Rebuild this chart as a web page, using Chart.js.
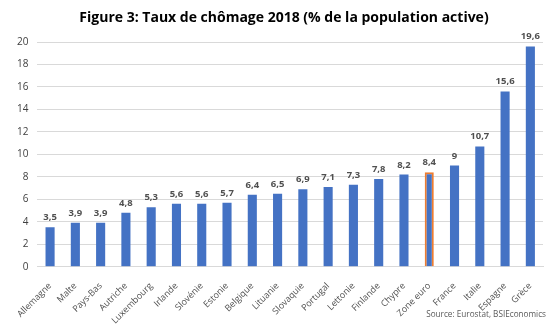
<!DOCTYPE html>
<html>
<head>
<meta charset="utf-8">
<script src="https://cdn.jsdelivr.net/npm/chart.js@4"></script>
<style>
  html, body { margin: 0; padding: 0; background: #fff; }
  #wrap { width: 560px; height: 327px; }
</style>
</head>
<body>
<div id="wrap"><canvas id="chart"></canvas></div>
<script>
const countries = ['Allemagne', 'Malte', 'Pays-Bas', 'Autriche', 'Luxembourg', 'Irlande', 'Slovénie', 'Estonie',
  'Belgique', 'Lituanie', 'Slovaquie', 'Portugal', 'Lettonie', 'Finlande', 'Chypre', 'Zone euro', 'France',
  'Italie', 'Espagne', 'Grèce'];
const unemployment = [3.5, 3.9, 3.9, 4.8, 5.3, 5.6, 5.6, 5.7, 6.4, 6.5, 6.9, 7.1, 7.3, 7.8, 8.2, 8.4, 9, 10.7, 15.6, 19.6];
const highlight = 'Zone euro';
const titleText = 'Figure 3: Taux de chômage 2018 (% de la population active)';
const sourceText = 'Source: Eurostat, BSIEconomics';

const BLUE = '#4472C4';
const ORANGE = '#ED7D31';
const FONT = '"Open Sans", sans-serif';

// value labels above each bar, french decimal comma
const valueLabels = {
  id: 'valueLabels',
  afterDatasetsDraw(chart) {
    const ctx = chart.ctx;
    const meta = chart.getDatasetMeta(0);
    ctx.save();
    ctx.font = 'bold 9.5px ' + FONT;
    ctx.fillStyle = '#505050';
    ctx.textAlign = 'center';
    ctx.textBaseline = 'bottom';
    meta.data.forEach((bar, i) => {
      const txt = String(unemployment[i]).replace('.', ',');
      ctx.fillText(txt, bar.x, bar.y - 5);
    });
    ctx.restore();
  }
};

// title on top, source note bottom right
const captions = {
  id: 'captions',
  afterDraw(chart) {
    const ctx = chart.ctx;
    ctx.save();
    ctx.font = 'bold 14px ' + FONT;
    ctx.fillStyle = '#000';
    ctx.textAlign = 'center';
    ctx.textBaseline = 'middle';
    ctx.fillText(titleText, 284, 18);
    ctx.font = '8.2px ' + FONT;
    ctx.fillStyle = '#595959';
    ctx.textAlign = 'right';
    ctx.fillText(sourceText, 546, 315);
    ctx.restore();
  }
};

new Chart(document.getElementById('chart'), {
  type: 'bar',
  data: {
    labels: countries,
    datasets: [{
      data: unemployment,
      backgroundColor: BLUE,
      borderColor: countries.map(c => c === highlight ? ORANGE : BLUE),
      borderWidth: countries.map(c => c === highlight ? 2 : 0),
      barPercentage: 0.36,
      categoryPercentage: 1
    }]
  },
  options: {
    responsive: true,
    maintainAspectRatio: false,
    animation: false,
    layout: { padding: { left: 8, right: 17, top: 42, bottom: -5 } },
    plugins: {
      legend: { display: false },
      tooltip: { enabled: false },
      title: { display: false }
    },
    scales: {
      y: {
        min: 0,
        max: 20,
        ticks: {
          stepSize: 2,
          color: '#404040',
          font: { family: FONT, size: 10 },
          padding: 9
        },
        grid: { color: '#d9d9d9', drawTicks: false },
        border: { display: false }
      },
      x: {
        ticks: {
          color: '#505050',
          font: { family: FONT, size: 9 },
          minRotation: 45,
          maxRotation: 45,
          autoSkip: false,
          padding: 6
        },
        grid: { display: false },
        border: { color: '#d9d9d9' }
      }
    }
  },
  plugins: [valueLabels, captions]
});
</script>
</body>
</html>
